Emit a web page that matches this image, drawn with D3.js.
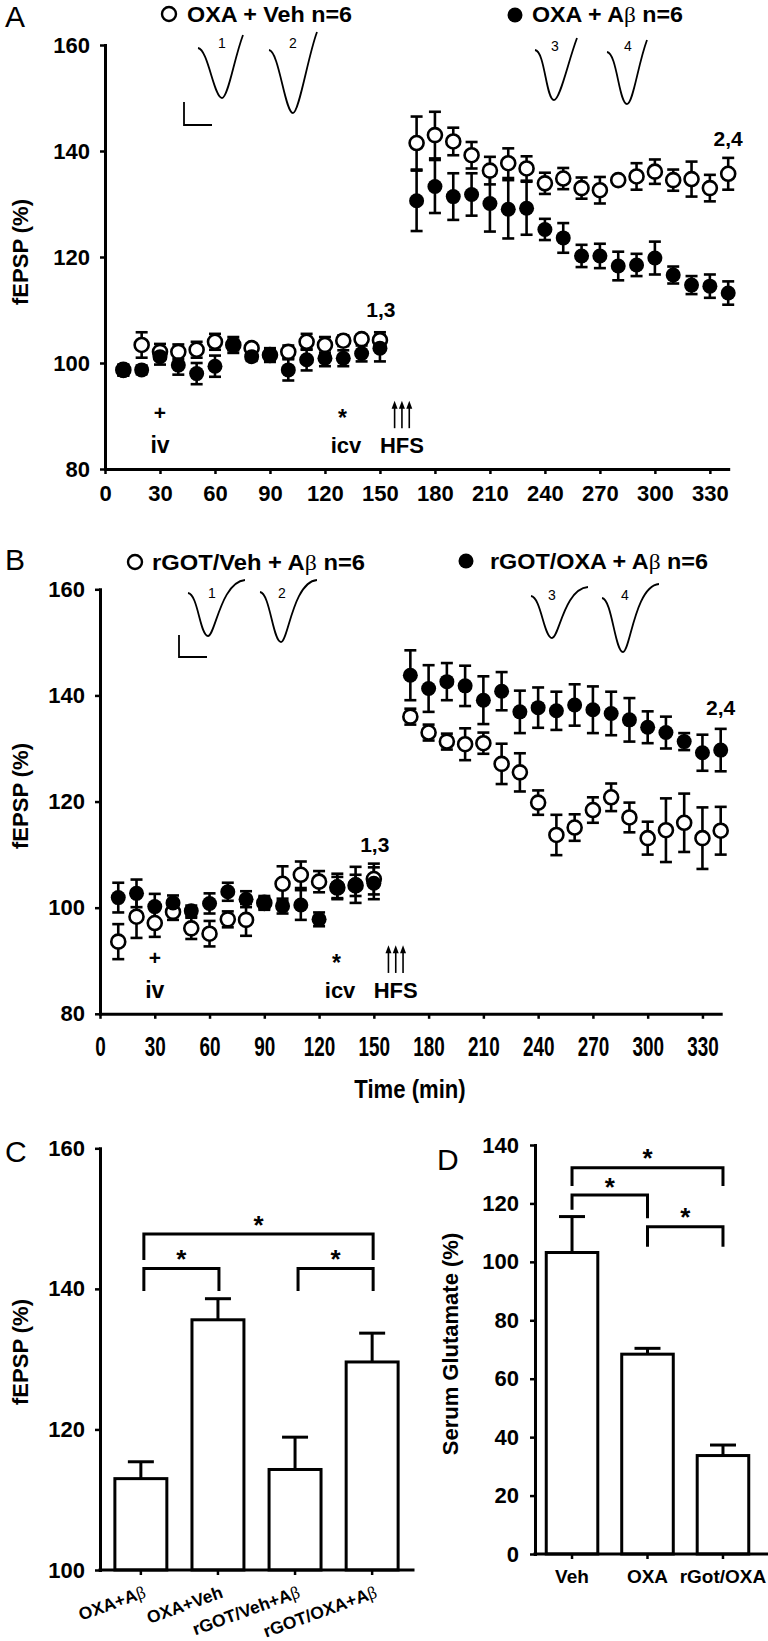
<!DOCTYPE html>
<html><head><meta charset="utf-8">
<script src="https://cdn.jsdelivr.net/npm/d3@7"></script>
<style>
html,body{margin:0;padding:0;background:#fff;}
svg{display:block;}
</style></head><body>
<svg id="chart" width="768" height="1641"></svg>
<script>
// ---------------- DATA ----------------
const timeBase = [10,20,30,40,50,60,70,80,90,100,110,120,130,140,150];
const timePost = [170,180,190,200,210,220,230,240,250,260,270,280,290,300,310,320,330,340];
const timeTicks = [0,30,60,90,120,150,180,210,240,270,300,330];
const fepspTicks = [80,100,120,140,160];

// Panel A
const legendA = ["OXA + Veh n=6", "OXA + Aβ n=6"];
const aVehBase = [98.7,103.4,102.1,102.1,102.5,104.0,103.4,102.8,101.5,102.1,104.0,103.4,104.2,104.5,104.3];
const aVehBaseErr = [1.0,2.4,1.5,1.4,1.5,1.5,1.0,0.8,1.0,1.2,1.5,1.5,1.0,0.8,1.5];
const aVehPost = [141.5,143.0,141.8,139.2,136.3,137.7,136.7,133.9,134.8,133.0,132.6,134.5,135.2,136.1,134.5,134.7,133.0,135.7];
const aVehPostErr = [5.0,4.4,2.6,2.5,2.6,2.8,2.3,2.0,2.0,2.0,2.5,0.5,2.5,2.3,2.0,3.3,2.5,3.0];
const aAbBase = [98.6,98.7,101.2,99.6,98.0,99.4,103.4,101.2,101.5,98.7,100.6,100.9,100.9,101.8,102.8];
const aAbBaseErr = [1.0,0.8,1.5,1.8,2.0,2.0,1.5,0.8,1.3,2.0,2.0,1.5,1.5,1.5,2.5];
const aAbPost = [130.6,133.3,131.4,131.8,130.1,129.0,129.2,125.2,123.6,120.2,120.2,118.3,118.5,119.8,116.6,114.7,114.5,113.2];
const aAbPostErr = [5.7,5.0,4.4,4.0,5.3,5.5,5.0,2.0,2.8,2.1,2.3,2.7,2.1,3.1,1.6,1.7,2.2,2.2];

// Panel B
const legendB = ["rGOT/Veh + Aβ n=6", "rGOT/OXA + Aβ n=6"];
const bVehBase = [93.6,98.3,97.1,99.2,96.1,95.1,97.8,97.7,100.9,104.5,106.2,104.9,103.8,104.2,105.4];
const bVehBaseErr = [3.3,4.0,2.6,1.5,2.0,2.4,1.5,3.0,1.0,3.3,2.5,2.0,2.0,2.0,2.9];
const bVehPost = [136.0,133.0,131.3,130.8,131.0,127.1,125.5,119.8,113.7,115.1,118.4,120.8,117.0,113.1,114.6,116.0,113.1,114.5];
const bVehPostErr = [1.5,1.5,1.5,3.0,2.0,3.8,3.6,2.3,3.8,2.5,2.4,2.6,2.8,3.1,6.0,5.5,5.8,4.5];
const bOxaBase = [101.9,102.7,100.2,100.9,99.4,100.8,103.0,101.6,100.9,100.3,100.5,97.8,104.0,104.3,104.6];
const bOxaBaseErr = [2.8,2.6,2.4,1.4,1.0,1.9,1.7,1.5,1.3,1.4,2.8,1.3,2.4,3.4,3.0];
const bOxaPost = [143.8,141.3,142.6,141.8,139.1,140.8,136.9,137.7,137.1,138.2,137.3,136.6,135.4,134.0,133.0,131.3,129.2,129.7];
const bOxaPostErr = [4.7,4.4,3.5,3.8,4.5,3.6,4.0,3.8,3.6,3.9,4.4,4.1,4.1,3.0,3.0,1.6,3.4,4.0];

// Panel C
const cCategories = ["OXA+Aβ","OXA+Veh","rGOT/Veh+Aβ","rGOT/OXA+Aβ"];
const cValues = [113.0,135.6,114.3,129.6];
const cErrors = [2.4,3.0,4.6,4.1];
const cTicks = [100,120,140,160];

// Panel D
const dCategories = ["Veh","OXA","rGot/OXA"];
const dValues = [103.2,68.4,33.7];
const dErrors = [12.3,2.0,3.6];
const dTicks = [0,20,40,60,80,100,120,140];

// ---------------- DRAWING ----------------
const FONT = '"Liberation Sans", Arial, Helvetica, sans-serif';
const SERIF = '"Liberation Serif", "DejaVu Serif", serif';
const svg = d3.select("#chart");

function rich(sel, str) {
  const parts = str.split("β");
  parts.forEach((p, i) => {
    if (p) sel.append("tspan").text(p);
    if (i < parts.length - 1) sel.append("tspan").attr("font-family", SERIF).attr("font-weight", "normal").text("β");
  });
  return sel;
}
function label(x, y, str, size, opts = {}) {
  const t = svg.append("text").attr("x", x).attr("y", y)
    .attr("font-family", FONT)
    .attr("font-size", size)
    .attr("font-weight", opts.weight || "bold")
    .attr("text-anchor", opts.anchor || "start")
    .attr("fill", "#000");
  if (opts.transform) t.attr("transform", opts.transform);
  if (opts.len) t.attr("textLength", opts.len).attr("lengthAdjust", "spacingAndGlyphs");
  rich(t, str);
  return t;
}
function styleAxis(g, fs) {
  g.attr("font-family", FONT).attr("font-size", fs).attr("font-weight", "bold");
  g.select(".domain").attr("stroke", "#000").attr("stroke-width", 3).attr("stroke-linecap", "square");
  g.selectAll(".tick line").attr("stroke", "#000").attr("stroke-width", 2.5);
  g.selectAll(".tick text").attr("fill", "#000");
}
function yLabel(cx, cy, str, size) {
  label(0, 0, str, size, { anchor: "middle", transform: `translate(${cx + 8},${cy}) rotate(-90)` });
}
function series(vals, errs) {
  const times = timeBase.concat(timePost);
  return times.map((t, i) => ({ t, v: vals[i], e: errs[i] }));
}
function errBars(g, x, y, d) {
  const eg = g.append("g").attr("stroke", "#000").attr("stroke-width", 2.6).attr("fill", "none");
  eg.selectAll("line.s").data(d).join("line")
    .attr("x1", p => x(p.t)).attr("x2", p => x(p.t))
    .attr("y1", p => y(p.v - p.e)).attr("y2", p => y(p.v + p.e));
  eg.selectAll("line.t").data(d).join("line")
    .attr("x1", p => x(p.t) - 6).attr("x2", p => x(p.t) + 6)
    .attr("y1", p => y(p.v + p.e)).attr("y2", p => y(p.v + p.e));
  eg.selectAll("line.b").data(d).join("line")
    .attr("x1", p => x(p.t) - 6).attr("x2", p => x(p.t) + 6)
    .attr("y1", p => y(p.v - p.e)).attr("y2", p => y(p.v - p.e));
}
function markers(g, x, y, d, filled) {
  g.append("g").selectAll("circle").data(d).join("circle")
    .attr("cx", p => x(p.t)).attr("cy", p => y(p.v))
    .attr("r", filled ? 7.5 : 7)
    .attr("fill", filled ? "#000" : "#fff")
    .attr("stroke", "#000").attr("stroke-width", filled ? 0 : 2.6);
}
function traceNarrow(x0, y0, xm, ym, xe, ye) {
  svg.append("path").attr("fill", "none").attr("stroke", "#000").attr("stroke-width", 1.8)
    .attr("d", `M${x0},${y0} C${x0 + 10},${y0 + 1} ${xm - 8},${ym} ${xm},${ym} C${xm + 6},${ym} ${xe - 9},${ye + 24} ${xe},${ye}`);
}
function traceWide(x0, y0, xm, ym, xe, ye) {
  svg.append("path").attr("fill", "none").attr("stroke", "#000").attr("stroke-width", 1.8)
    .attr("d", `M${x0},${y0} C${x0 + 10},${y0 + 1} ${xm - 8},${ym} ${xm},${ym} C${xm + 7},${ym} ${xe - 24},${ye + 2} ${xe},${ye}`);
}
function scaleBar(x, yTop, yBot, xr) {
  svg.append("path").attr("fill", "none").attr("stroke", "#000").attr("stroke-width", 1.8)
    .attr("d", `M${x},${yTop} V${yBot} H${xr}`);
}
function arrow(x, yBot, yTop) {
  svg.append("line").attr("x1", x).attr("x2", x).attr("y1", yBot).attr("y2", yTop + 6)
    .attr("stroke", "#000").attr("stroke-width", 1.6);
  svg.append("path").attr("d", `M${x - 3},${yTop + 8} L${x + 3},${yTop + 8} L${x},${yTop} Z`).attr("fill", "#000");
}

function timePanel(cfg) {
  const x = d3.scaleLinear().domain([0, 340]).range([cfg.x0, cfg.x1]);
  const y = d3.scaleLinear().domain([80, 160]).range([cfg.yBot, cfg.yTop]);
  const gy = svg.append("g").attr("transform", `translate(${cfg.x0},0)`)
    .call(d3.axisLeft(y).tickValues(fepspTicks).tickSize(5).tickSizeOuter(0).tickPadding(10));
  styleAxis(gy, 22);
  const gx = svg.append("g").attr("transform", `translate(0,${cfg.yBot})`)
    .call(d3.axisBottom(x).tickValues(timeTicks).tickSize(5).tickSizeOuter(0).tickPadding(cfg.xPad));
  styleAxis(gx, cfg.xFont);
  if (cfg.xSqueeze) gx.selectAll(".tick text").attr("transform", `scale(${cfg.xSqueeze},1)`);

  const dOpen = series(cfg.open, cfg.openErr);
  const dFill = series(cfg.fill, cfg.fillErr);
  const g = svg.append("g");
  errBars(g, x, y, dOpen);
  errBars(g, x, y, dFill);
  markers(g, x, y, dOpen, false);
  markers(g, x, y, dFill, true);

  label(x(30), y(90.6) + 7, "+", 21, { anchor: "middle" });
  label(x(30), y(83.0), "iv", 23, { anchor: "middle" });
  label(x(129.5), y(90.6) + 13, "*", 23, { anchor: "middle" });
  label(x(131.5), y(83.0), "icv", 22, { anchor: "middle" });
  label(x(162), y(83.0), "HFS", 22, { anchor: "middle" });
  [158, 162, 166].forEach(t => arrow(x(t), y(87.7), y(92.9)));
  label(x(150.5), y(cfg.l13), "1,3", 21, { anchor: "middle" });
  label(x(340), y(cfg.l24), "2,4", 21, { anchor: "middle" });
  return { x, y };
}

// Panel A
timePanel({
  x0: 105, x1: 728.2, yTop: 45, yBot: 469, xPad: 11, xFont: 22,
  open: aVehBase.concat(aVehPost), openErr: aVehBaseErr.concat(aVehPostErr),
  fill: aAbBase.concat(aAbPost), fillErr: aAbBaseErr.concat(aAbPostErr),
  l13: 108.7, l24: 140.9
});
label(5, 27, "A", 30, { weight: "normal" });
yLabel(20, 252, "fEPSP (%)", 22);
svg.append("circle").attr("cx", 169).attr("cy", 14).attr("r", 7).attr("fill", "#fff").attr("stroke", "#000").attr("stroke-width", 2.4);
label(187, 22, legendA[0], 22, { len: 165 });
svg.append("circle").attr("cx", 515).attr("cy", 15).attr("r", 7.5).attr("fill", "#000");
label(532, 22, legendA[1], 22, { len: 151 });
traceNarrow(198, 48, 222, 98, 243, 35);
traceNarrow(269, 50, 293, 113, 317, 32);
traceNarrow(535, 50, 554, 100, 577, 38);
traceNarrow(607, 52, 627, 104, 647, 40);
scaleBar(184, 102, 125, 212);
[["1", 222, 48], ["2", 293, 48], ["3", 555, 51], ["4", 628, 51]].forEach(d => label(d[1], d[2], d[0], 14, { weight: "normal", anchor: "middle" }));

// Panel B
timePanel({
  x0: 100, x1: 720.7, yTop: 589.3, yBot: 1013.8, xPad: 18, xFont: 27, xSqueeze: 0.7,
  open: bVehBase.concat(bVehPost), openErr: bVehBaseErr.concat(bVehPostErr),
  fill: bOxaBase.concat(bOxaPost), fillErr: bOxaBaseErr.concat(bOxaPostErr),
  l13: 110.5, l24: 136.3
});
label(5, 570, "B", 30, { weight: "normal" });
yLabel(20, 796, "fEPSP (%)", 22);
label(0, 0, "Time (min)", 26, { anchor: "middle", transform: "translate(410,1098) scale(0.85,1)" });
svg.append("circle").attr("cx", 135).attr("cy", 562).attr("r", 7).attr("fill", "#fff").attr("stroke", "#000").attr("stroke-width", 2.4);
label(152, 570, legendB[0], 22, { len: 213 });
svg.append("circle").attr("cx", 466).attr("cy", 561).attr("r", 7.5).attr("fill", "#000");
label(490, 569, legendB[1], 22, { len: 218 });
traceWide(188, 593, 208, 636, 245, 580);
traceWide(260, 592, 281, 642, 317, 580);
traceWide(531, 596, 552, 638, 588, 587);
traceWide(602, 598, 623, 652, 659, 584);
scaleBar(179, 635, 657, 207);
[["1", 212, 598], ["2", 282, 598], ["3", 552, 600], ["4", 625, 600]].forEach(d => label(d[1], d[2], d[0], 14, { weight: "normal", anchor: "middle" }));

// Panel C
{
  const y = d3.scaleLinear().domain([100, 160]).range([1570, 1148.3]);
  const x = d3.scaleBand().domain(cCategories).range([100, 413]).paddingInner(0.326).paddingOuter(0.193);
  const cx = c => x(c) + x.bandwidth() / 2;
  const gy = svg.append("g").attr("transform", "translate(100,0)")
    .call(d3.axisLeft(y).tickValues(cTicks).tickSize(5).tickSizeOuter(0).tickPadding(10));
  styleAxis(gy, 22);
  const data = cCategories.map((c, i) => ({ c, v: cValues[i], e: cErrors[i] }));
  const g = svg.append("g").attr("stroke", "#000").attr("stroke-width", 3);
  g.selectAll("line.stem").data(data).join("line")
    .attr("x1", d => cx(d.c)).attr("x2", d => cx(d.c)).attr("y1", d => y(d.v)).attr("y2", d => y(d.v + d.e));
  g.selectAll("line.cap").data(data).join("line")
    .attr("x1", d => cx(d.c) - 13).attr("x2", d => cx(d.c) + 13).attr("y1", d => y(d.v + d.e)).attr("y2", d => y(d.v + d.e));
  g.selectAll("rect").data(data).join("rect")
    .attr("x", d => x(d.c)).attr("width", x.bandwidth())
    .attr("y", d => y(d.v)).attr("height", d => y(100) - y(d.v))
    .attr("fill", "#fff");
  const gx = svg.append("g").attr("transform", "translate(0,1570)")
    .call(d3.axisBottom(x).tickSize(5).tickSizeOuter(0).tickFormat(""));
  styleAxis(gx, 17);
  gx.select(".domain").attr("d", "M100,0H413");
  cCategories.forEach(c => {
    label(0, 0, c, 17.5, { anchor: "end", transform: `translate(${cx(c) + 6},1597) rotate(-20)` });
  });
  const br = [
    { a: 0, b: 1, h: 142.9, l: 139.7 },
    { a: 2, b: 3, h: 142.9, l: 139.7 },
    { a: 0, b: 3, h: 147.8, l: 144.1 }
  ];
  br.forEach(b => {
    const xa = cx(cCategories[b.a]) + 3, xb = cx(cCategories[b.b]) + 1;
    svg.append("path").attr("fill", "none").attr("stroke", "#000").attr("stroke-width", 3)
      .attr("d", `M${xa},${y(b.l)} V${y(b.h)} H${xb} V${y(b.l)}`);
    label((xa + xb) / 2, y(b.h), "*", 26, { anchor: "middle" });
  });
  label(5, 1162, "C", 30, { weight: "normal" });
  yLabel(20, 1352, "fEPSP (%)", 22);
}

// Panel D
{
  const y = d3.scaleLinear().domain([0, 140]).range([1554, 1145]);
  const x = d3.scaleBand().domain(dCategories).range([535, 760]).paddingInner(0.317).paddingOuter(0.149);
  const cx = c => x(c) + x.bandwidth() / 2;
  const gy = svg.append("g").attr("transform", "translate(535,0)")
    .call(d3.axisLeft(y).tickValues(dTicks).tickSize(5).tickSizeOuter(0).tickPadding(11));
  styleAxis(gy, 22);
  const data = dCategories.map((c, i) => ({ c, v: dValues[i], e: dErrors[i] }));
  const g = svg.append("g").attr("stroke", "#000").attr("stroke-width", 3);
  g.selectAll("line.stem").data(data).join("line")
    .attr("x1", d => cx(d.c)).attr("x2", d => cx(d.c)).attr("y1", d => y(d.v)).attr("y2", d => y(d.v + d.e));
  g.selectAll("line.cap").data(data).join("line")
    .attr("x1", d => cx(d.c) - 13).attr("x2", d => cx(d.c) + 13).attr("y1", d => y(d.v + d.e)).attr("y2", d => y(d.v + d.e));
  g.selectAll("rect").data(data).join("rect")
    .attr("x", d => x(d.c)).attr("width", x.bandwidth())
    .attr("y", d => y(d.v)).attr("height", d => y(0) - y(d.v))
    .attr("fill", "#fff");
  const gx = svg.append("g").attr("transform", "translate(0,1554)")
    .call(d3.axisBottom(x).tickSize(5).tickSizeOuter(0).tickPadding(11));
  styleAxis(gx, 19);
  gx.select(".domain").attr("d", "M535,0H768");
  const br = [
    { a: 0, b: 2, h: 132.2, la: 126.0, lb: 126.0, s: 137.3 },
    { a: 0, b: 1, h: 122.9, la: 117.8, lb: 114.9, s: 127.5 },
    { a: 1, b: 2, h: 112.0, la: 105.2, lb: 105.2, s: 117.2 }
  ];
  br.forEach(b => {
    const xa = cx(dCategories[b.a]), xb = cx(dCategories[b.b]);
    svg.append("path").attr("fill", "none").attr("stroke", "#000").attr("stroke-width", 3)
      .attr("d", `M${xa},${y(b.la)} V${y(b.h)} H${xb} V${y(b.lb)}`);
    label((xa + xb) / 2, y(b.s) + 14, "*", 26, { anchor: "middle" });
  });
  label(437, 1170, "D", 30, { weight: "normal" });
  yLabel(450, 1344, "Serum Glutamate (%)", 22);
}
</script>
</body></html>
